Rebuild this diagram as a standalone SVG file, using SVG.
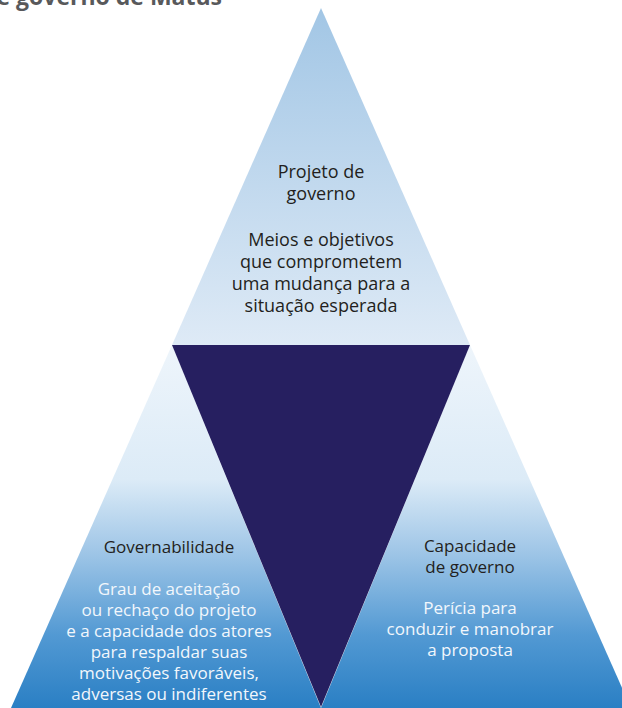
<svg xmlns="http://www.w3.org/2000/svg" width="622" height="708" viewBox="0 0 622 708">
  <defs>
    <linearGradient id="gTop" gradientUnits="userSpaceOnUse" x1="0" y1="8" x2="0" y2="345">
      <stop offset="0" stop-color="#a2c6e5"/>
      <stop offset="1" stop-color="#deeaf6"/>
    </linearGradient>
    <linearGradient id="gLow" gradientUnits="userSpaceOnUse" x1="0" y1="345" x2="0" y2="708">
      <stop offset="0" stop-color="#eef5fb"/>
      <stop offset="0.37" stop-color="#dcebf7"/>
      <stop offset="0.58" stop-color="#9cc4e6"/>
      <stop offset="0.8" stop-color="#5299d3"/>
      <stop offset="1" stop-color="#2a7fc4"/>
    </linearGradient>
  </defs>
  <style>
    text { font-family: "Open Sans", "Noto Sans", "DejaVu Sans", sans-serif; text-anchor: middle; }
    .top { font-size: 18px; }
    .low { font-size: 17px; }
    .dark { fill: #231f20; }
    .light { fill: #f2f7fc; }
    .title { font-weight: bold; fill: #58595b; font-size: 23px; text-anchor: end; }
  </style>
  <rect width="622" height="708" fill="#ffffff"/>
  <text class="title" x="222" y="5">e governo de Matus</text>

  <g id="projeto">
    <polygon points="321,8 470,345 172,345" fill="url(#gTop)"/>
    <text class="top dark" x="321" y="178">Projeto de</text>
    <text class="top dark" x="321" y="200">governo</text>
    <text class="top dark" x="321" y="246">Meios e objetivos</text>
    <text class="top dark" x="321" y="268">que comprometem</text>
    <text class="top dark" x="321" y="290">uma mudança para a</text>
    <text class="top dark" x="321" y="312">situação esperada</text>
  </g>

  <g id="governabilidade">
    <polygon points="172,345 321,708 11,708" fill="url(#gLow)"/>
    <text class="low dark" x="169" y="553">Governabilidade</text>
    <text class="low light" x="169" y="595">Grau de aceitação</text>
    <text class="low light" x="169" y="616">ou rechaço do projeto</text>
    <text class="low light" x="169" y="637">e a capacidade dos atores</text>
    <text class="low light" x="169" y="658">para respaldar suas</text>
    <text class="low light" x="169" y="679">motivações favoráveis,</text>
    <text class="low light" x="169" y="700">adversas ou indiferentes</text>
  </g>

  <g id="capacidade">
    <polygon points="470,345 631,708 321,708" fill="url(#gLow)"/>
    <text class="low dark" x="470" y="552">Capacidade</text>
    <text class="low dark" x="470" y="573">de governo</text>
    <text class="low light" x="470" y="614">Perícia para</text>
    <text class="low light" x="470" y="635">conduzir e manobrar</text>
    <text class="low light" x="470" y="656">a proposta</text>
  </g>

  <g id="centro">
    <polygon points="172,345 470,345 321,707" fill="#261f60"/>
  </g>

  <g id="connectors"></g>
</svg>
